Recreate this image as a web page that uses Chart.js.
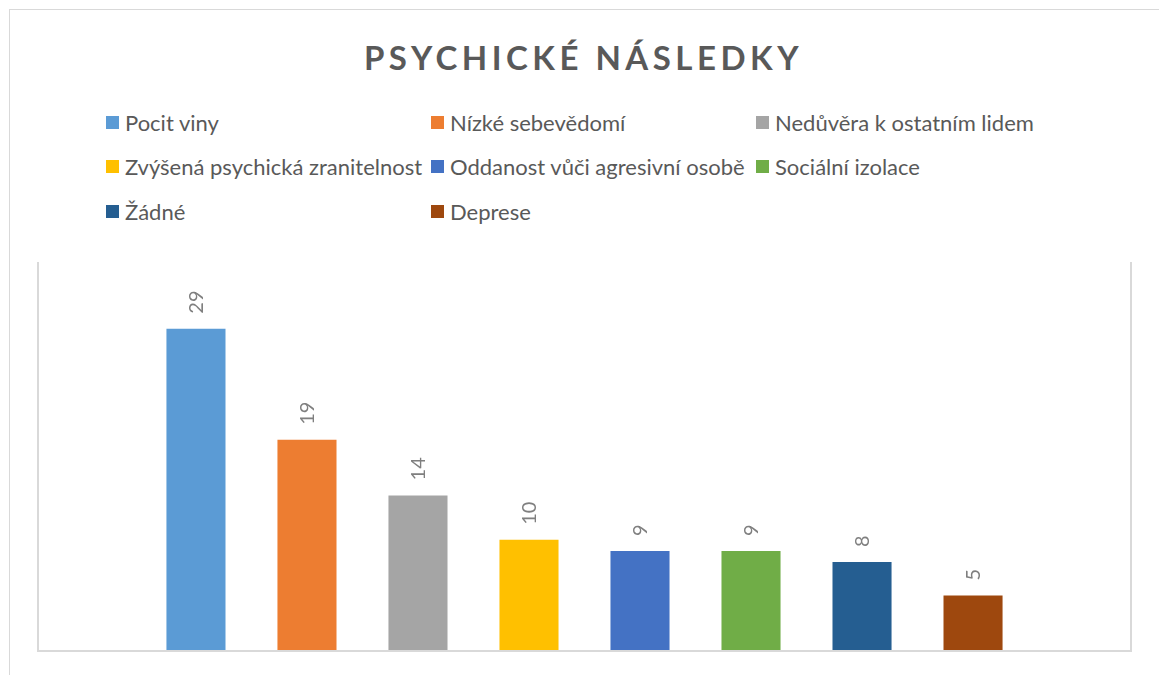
<!DOCTYPE html>
<html>
<head>
<meta charset="utf-8">
<script src="https://cdn.jsdelivr.net/npm/chart.js@4"></script>
<style>
  html, body { margin: 0; padding: 0; background: #fff; overflow: hidden; }
  #wrap { position: relative; width: 1159px; height: 675px; }
  #frame { position: absolute; left: 9px; top: 9px; width: 1300px; height: 800px; border: 1px solid #d9d9d9; box-sizing: border-box; }
  #title { position: absolute; left: 4px; width: 1159px; top: 33px; text-align: center; font: bold 33px Lato, sans-serif; letter-spacing: 4.5px; color: #595959; line-height: 48px; }
  #legend { position: absolute; left: 106px; top: 100px; display: grid; grid-template-columns: 325px 325px 325px; grid-auto-rows: 44.5px; font: 22px Lato, sans-serif; color: #595959; }
  #legend div { display: flex; align-items: center; white-space: nowrap; }
  #legend span.box { width: 13px; height: 13px; margin-right: 6px; flex: none; }
  #chartBox { position: absolute; left: 0; top: 0; width: 1159px; height: 675px; }
</style>
</head>
<body>
<div id="wrap">
  <div id="frame"></div>
  <div id="title">PSYCHICKÉ NÁSLEDKY</div>
  <div id="legend"></div>
  <div id="chartBox"><canvas id="c"></canvas></div>
</div>
<script>
  const seriesNames = ["Pocit viny", "Nízké sebevědomí", "Nedůvěra k ostatním lidem",
    "Zvýšená psychická zranitelnost", "Oddanost vůči agresivní osobě", "Sociální izolace",
    "Žádné", "Deprese"];
  const seriesValues = [29, 19, 14, 10, 9, 9, 8, 5];
  const seriesColors = ["#5B9BD5", "#ED7D31", "#A5A5A5", "#FFC000", "#4472C4", "#70AD47", "#255E91", "#9E480E"];
  const yMax = 35;

  // legend in three fixed columns like the original
  const leg = document.getElementById("legend");
  seriesNames.forEach((n, i) => {
    const d = document.createElement("div");
    d.innerHTML = `<span class="box" style="background:${seriesColors[i]}"></span>${n}`;
    leg.appendChild(d);
  });

  const plotFrame = {
    id: "plotFrame",
    afterDraw(chart) {
      const { ctx, chartArea: a } = chart;
      ctx.save();
      ctx.strokeStyle = "#d9d9d9";
      ctx.lineWidth = 2;
      ctx.beginPath();
      ctx.moveTo(a.left, a.top);
      ctx.lineTo(a.left, a.bottom);
      ctx.lineTo(a.right, a.bottom);
      ctx.lineTo(a.right, a.top);
      ctx.stroke();
      ctx.restore();
    }
  };

  const valueLabels = {
    id: "valueLabels",
    afterDatasetsDraw(chart) {
      const ctx = chart.ctx;
      ctx.save();
      ctx.fillStyle = "#7f7f7f";
      ctx.font = "20px Lato, sans-serif";
      ctx.textAlign = "left";
      ctx.textBaseline = "middle";
      chart.data.datasets.forEach((ds, i) => {
        const bar = chart.getDatasetMeta(i).data[0];
        ctx.save();
        ctx.translate(bar.x + 1, bar.y - 15);
        ctx.rotate(-Math.PI / 2);
        ctx.fillText(String(ds.data[0]), 0, 0);
        ctx.restore();
      });
      ctx.restore();
    }
  };

  new Chart(document.getElementById("c"), {
    type: "bar",
    data: {
      labels: [""],
      datasets: seriesNames.map((n, i) => ({
        label: n,
        data: [seriesValues[i]],
        backgroundColor: seriesColors[i],
        categoryPercentage: 0.8125,
        barPercentage: 0.532
      }))
    },
    options: {
      responsive: true,
      maintainAspectRatio: false,
      animation: false,
      layout: { padding: { left: 38, right: 28, top: 262, bottom: 24 } },
      scales: {
        x: { display: false },
        y: { display: false, min: 0, max: yMax }
      },
      plugins: { legend: { display: false }, tooltip: { enabled: false } }
    },
    plugins: [plotFrame, valueLabels]
  });
</script>
</body>
</html>
